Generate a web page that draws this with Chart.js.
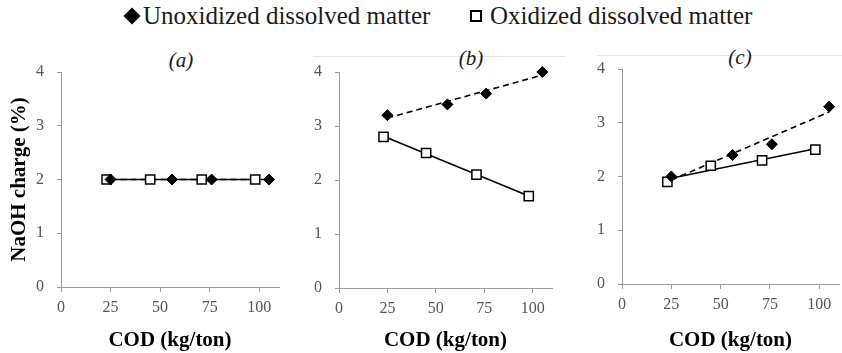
<!DOCTYPE html>
<html>
<head>
<meta charset="utf-8">
<script src="https://cdn.jsdelivr.net/npm/chart.js@4.4.1/dist/chart.umd.min.js"></script>
<style>
    html, body { margin: 0; padding: 0; background: #fff; }
    body {
        width: 842px; height: 353px; position: relative; overflow: hidden;
        font-family: 'Liberation Serif', serif; color: #1a1a1a;
    }
    canvas { position: absolute; }
    .leg-text { position: absolute; top: 0; height: 32px; line-height: 32px; font-size: 25px; white-space: nowrap; }
    .leg-diamond { position: absolute; width: 12px; height: 12px; background: #000; transform: rotate(45deg); }
    .leg-square { position: absolute; width: 12px; height: 12px; border: 2px solid #000; box-sizing: border-box; background: #fff; }
    .panel-title { position: absolute; font-size: 21px; font-style: italic; transform: translate(-50%, -50%); white-space: nowrap; }
    .frame-line { position: absolute; height: 1px; background: #e4e4e4; }
</style>
</head>
<body>
<!-- 图例 -->
<div class="leg-diamond" style="left:126px; top:10px;"></div>
<div class="leg-text" style="left:143px;">Unoxidized dissolved matter</div>
<div class="leg-square" style="left:470px; top:10px;"></div>
<div class="leg-text" style="left:490px;">Oxidized dissolved matter</div>

<!-- 图表外框的上边线 -->
<div class="frame-line" style="left:313px; width:252px; top:56px;"></div>
<div class="frame-line" style="left:597px; width:245px; top:55px;"></div>

<div class="panel-title" style="left:181px; top:60px;">(a)</div>
<div class="panel-title" style="left:471px; top:58px;">(b)</div>
<div class="panel-title" style="left:740px; top:57px;">(c)</div>

<canvas id="chartA" width="287" height="313" style="left:0px; top:40px;"></canvas>
<canvas id="chartB" width="266" height="313" style="left:294px; top:40px;"></canvas>
<canvas id="chartC" width="270" height="313" style="left:577px; top:40px;"></canvas>

<script>
// COD (kg/ton)
const codUnox = [25, 56, 76, 105];
const codOx = [23, 45, 71, 98];

// NaOH charge (%)
const naohUnoxA = [2.0, 2.0, 2.0, 2.0];
const naohOxA = [2.0, 2.0, 2.0, 2.0];
const naohUnoxB = [3.2, 3.4, 3.6, 4.0];
const naohOxB = [2.8, 2.5, 2.1, 1.7];
const naohUnoxC = [2.0, 2.4, 2.6, 3.3];
const naohOxC = [1.9, 2.2, 2.3, 2.5];

const xTicks = [0, 25, 50, 75, 100];
const yTicks = [0, 1, 2, 3, 4];

const FONT = "'Liberation Serif', serif";
const AXIS_COLOR = '#9a9a9a';
const TICK_COLOR = '#555';

function toPoints(xs, ys) {
    return xs.map((x, i) => ({ x: x, y: ys[i] }));
}

// 线性趋势线（最小二乘）
function fitLine(xs, ys) {
    const n = xs.length;
    const mx = xs.reduce((a, b) => a + b, 0) / n;
    const my = ys.reduce((a, b) => a + b, 0) / n;
    let sxy = 0, sxx = 0;
    xs.forEach((x, i) => {
        sxy += (x - mx) * (ys[i] - my);
        sxx += (x - mx) * (x - mx);
    });
    const k = sxx ? sxy / sxx : 0;
    const x0 = Math.min(...xs), x1 = Math.max(...xs);
    return [
        { x: x0, y: my + k * (x0 - mx) },
        { x: x1, y: my + k * (x1 - mx) }
    ];
}

function makePanel(id, unoxY, oxY, opt) {
    const ctx = document.getElementById(id);
    return new Chart(ctx, {
        type: 'scatter',
        data: {
            datasets: [
                {
                    label: 'Unoxidized dissolved matter',
                    data: toPoints(codUnox, unoxY),
                    pointStyle: 'rectRot',
                    pointRadius: 5.5,
                    backgroundColor: '#000',
                    borderColor: '#000',
                    borderWidth: 1,
                    clip: false
                },
                {
                    label: 'Oxidized dissolved matter',
                    data: toPoints(codOx, oxY),
                    pointStyle: 'rect',
                    pointRadius: 6.5,
                    backgroundColor: '#fff',
                    borderColor: '#000',
                    borderWidth: 1.5,
                    clip: false
                },
                {
                    label: 'Unoxidized trend',
                    data: fitLine(codUnox, unoxY),
                    showLine: true,
                    borderColor: '#000',
                    borderWidth: 1.6,
                    borderDash: [6, 4],
                    pointRadius: 0,
                    clip: false
                },
                {
                    label: 'Oxidized trend',
                    data: fitLine(codOx, oxY),
                    showLine: true,
                    borderColor: '#000',
                    borderWidth: 1.6,
                    pointRadius: 0,
                    clip: false
                }
            ]
        },
        options: {
            responsive: false,
            animation: false,
            layout: { padding: { top: opt.padTop, right: 0, bottom: 0, left: 0 } },
            plugins: {
                legend: { display: false },
                tooltip: { enabled: false }
            },
            scales: {
                x: {
                    type: 'linear',
                    min: 0,
                    max: 110,
                    afterBuildTicks: s => { s.ticks = xTicks.map(v => ({ value: v })); },
                    afterFit: s => { s.height = opt.xHeight; },
                    ticks: {
                        color: TICK_COLOR,
                        font: { family: FONT, size: 16 },
                        padding: 6,
                        maxRotation: 0
                    },
                    grid: { drawOnChartArea: false, drawTicks: true, tickLength: 5, color: AXIS_COLOR },
                    border: { color: AXIS_COLOR, width: 1 },
                    title: {
                        display: true,
                        text: 'COD (kg/ton)',
                        color: '#000',
                        font: { family: FONT, size: 21, weight: 'bold' },
                        padding: { top: 0, bottom: 0 }
                    }
                },
                y: {
                    type: 'linear',
                    min: 0,
                    max: 4,
                    afterBuildTicks: s => { s.ticks = yTicks.map(v => ({ value: v })); },
                    afterFit: s => { s.width = opt.yWidth; },
                    ticks: {
                        color: TICK_COLOR,
                        font: { family: FONT, size: 16 },
                        padding: 13
                    },
                    grid: { drawOnChartArea: false, drawTicks: true, tickLength: 4, color: AXIS_COLOR },
                    border: { color: AXIS_COLOR, width: 1 },
                    title: {
                        display: opt.yTitle,
                        text: 'NaOH charge (%)',
                        color: '#000',
                        font: { family: FONT, size: 21, weight: 'bold' },
                        padding: { top: 7, bottom: 0 }
                    }
                }
            }
        }
    });
}

makePanel('chartA', naohUnoxA, naohOxA, { padTop: 32, xHeight: 66, yWidth: 61, yTitle: true });
makePanel('chartB', naohUnoxB, naohOxB, { padTop: 32, xHeight: 65, yWidth: 45, yTitle: false });
makePanel('chartC', naohUnoxC, naohOxC, { padTop: 29, xHeight: 69, yWidth: 45, yTitle: false });
</script>
</body>
</html>
